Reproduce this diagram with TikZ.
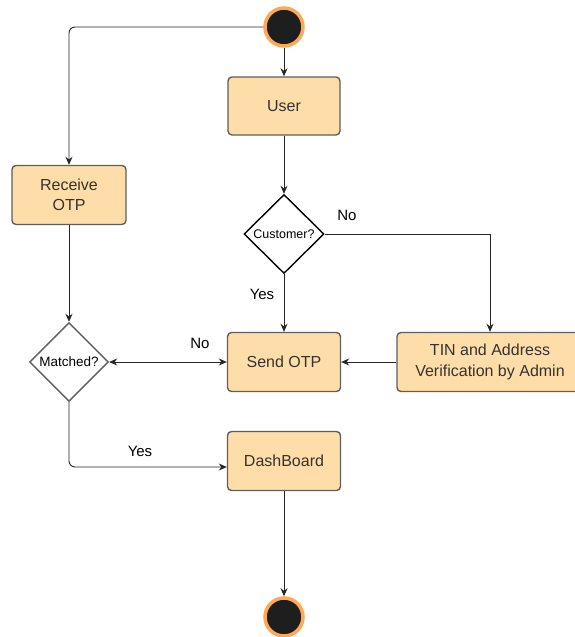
\documentclass[tikz,border=0pt]{standalone}
\usepackage{fontspec}
\setmainfont{Liberation Sans}
\usetikzlibrary{shapes.geometric,arrows.meta}
\definecolor{boxfill}{HTML}{FFDDA8}
\definecolor{boxline}{HTML}{5E5E5E}
\definecolor{ringorange}{HTML}{FFA953}
\definecolor{dotfill}{HTML}{1E1E1E}
\definecolor{txt}{HTML}{333333}
\begin{document}
\begin{tikzpicture}[x=1pt,y=-1pt,
  stepbox/.style={draw=boxline,line width=1.4pt,fill=boxfill,rounded corners=4pt,
    minimum width=112pt,minimum height=58pt,text=txt,font=\fontsize{16}{20.5}\selectfont,align=center,inner sep=0pt},
  decision/.style={draw=black,line width=1.4pt,fill=white,diamond,aspect=1,inner sep=0pt,
    minimum width=80pt,minimum height=79pt,font=\fontsize{12.5}{14}\selectfont},
  terminal/.style={circle,fill=dotfill,draw=ringorange,line width=3.5pt,minimum size=38pt,inner sep=0pt},
  flow/.style={draw=black!85,line width=0.9pt,-{Stealth[length=8pt,width=7pt]}},
  lbl/.style={font=\fontsize{15}{17}\selectfont,text=black}]
\useasboundingbox (0,0) rectangle (574,637);
% start and end
\node[terminal] (start) at (284,27) {};
\node[terminal] (stop) at (284,617) {};
% activity boxes
\node[stepbox] (user) at (284,106) {User};
\node[stepbox,minimum width=114pt,minimum height=59pt] (recv) at (69,195) {Receive\\OTP};
\node[stepbox,minimum width=113pt,minimum height=59pt] (send) at (284,362) {Send OTP};
\node[stepbox,minimum width=186pt,minimum height=59pt] (tin) at (490,362) {TIN and Address\\Verification by Admin};
\node[stepbox,minimum width=113pt,minimum height=59pt] (dash) at (284,461) {DashBoard};
% decisions
\node[decision] (cust) at (284,234) {Customer?};
\node[decision,draw=boxline,minimum width=79pt,minimum height=79pt,font=\fontsize{13.5}{15}\selectfont] (match) at (69,362) {Matched?};
% connectors
\coordinate (tl) at (69,27);
\coordinate (nr) at (490,234);
\coordinate (yb) at (69,467);
\draw[flow] (start) -- (user);
\draw[flow,rounded corners=6pt] (start.west) -- (tl) -- (recv.north);
\draw[flow] (user) -- (cust);
\draw[flow] (cust) -- (send) node[lbl,pos=0.35,left=6pt] {Yes};
\draw[flow] (cust.east) -- (nr) -- (tin.north);
\node[lbl] (nolbl) at (347,215) {No};
\draw[flow] (tin) -- (send);
\draw[flow] (recv) -- (match);
\draw[flow,{Stealth[length=8pt,width=7pt]}-{Stealth[length=8pt,width=7pt]}] (match.east) -- (send.west);
\node[lbl] (nolbl2) at (200,343) {No};
\draw[flow,rounded corners=6pt] (match.south) -- (yb) -- (yb -| dash.west);
\node[lbl] (yeslbl) at (140,451) {Yes};
\draw[flow] (dash) -- (stop);
\end{tikzpicture}
\end{document}
